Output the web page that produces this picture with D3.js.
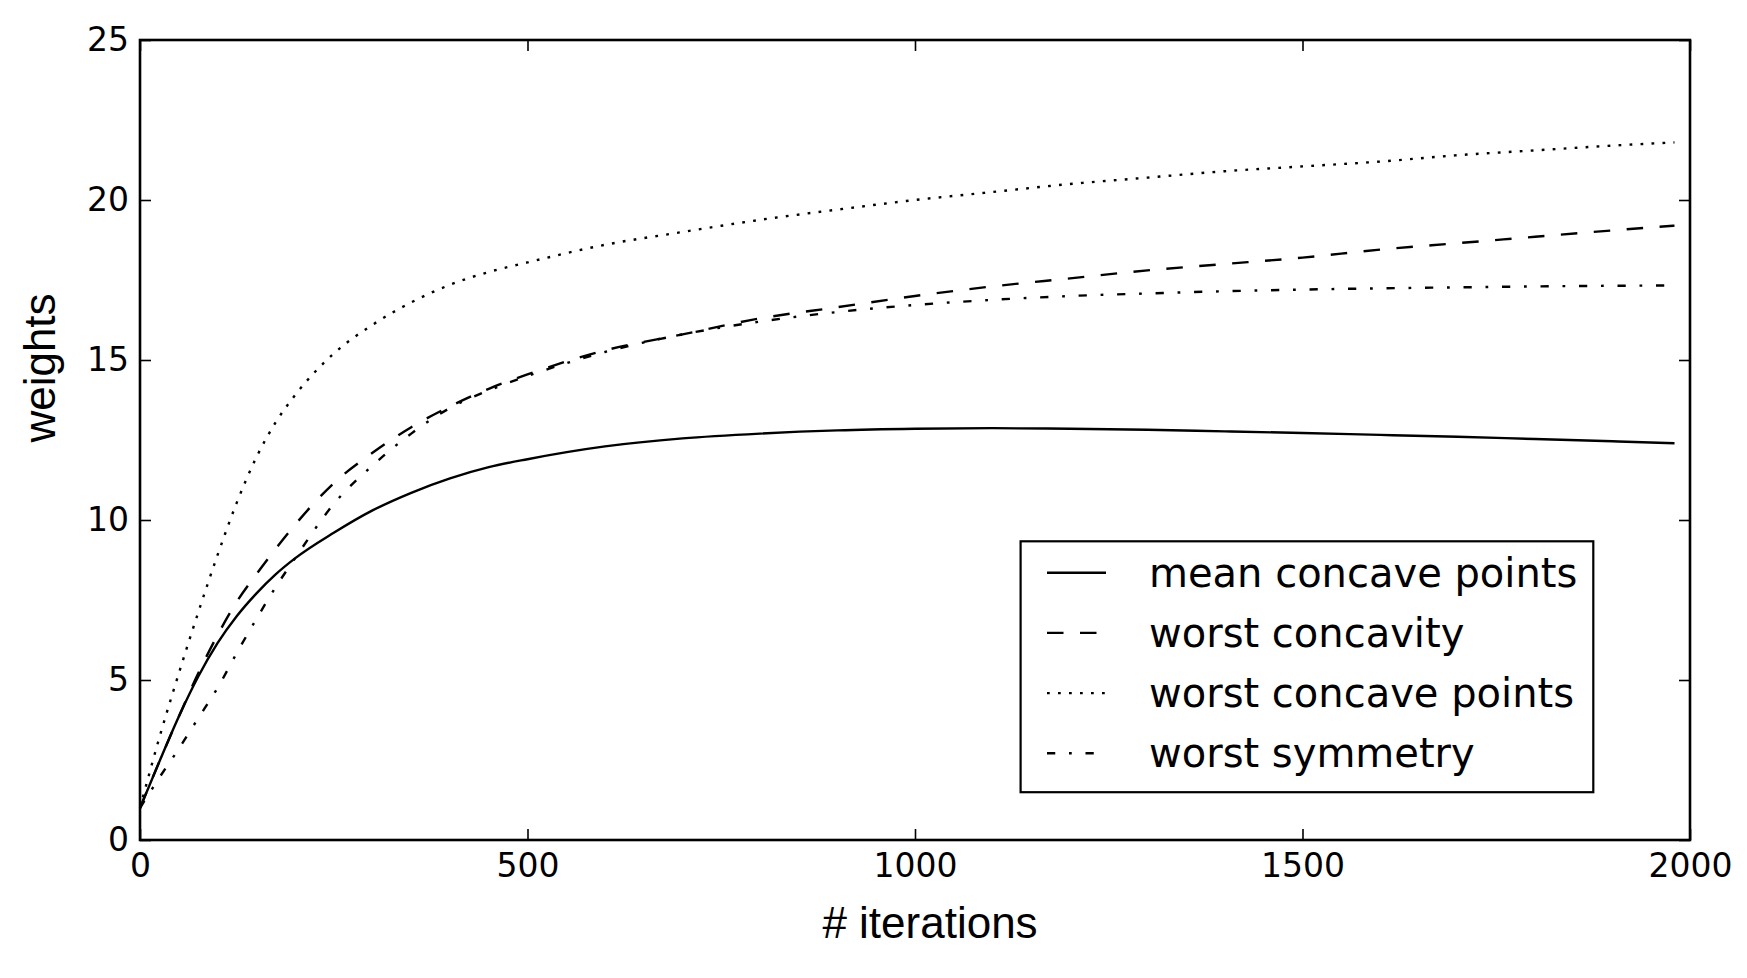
<!DOCTYPE html>
<html>
<head>
<meta charset="utf-8">
<script src="https://cdn.jsdelivr.net/npm/d3@7"></script>
<style>
  html, body { margin: 0; padding: 0; background: #fff; }
  svg { display: block; }
</style>
</head>
<body>
<svg id="chart" width="1747" height="978"></svg>
<script>
const iterations = [0,25,50,75,100,125,150,175,200,250,300,350,400,450,500,600,700,800,900,1000,1100,1200,1300,1400,1500,1600,1700,1800,1900,1980];
const meanConcavePoints = [1.0,2.45,3.85,5.1,6.15,7.0,7.7,8.3,8.8,9.6,10.3,10.85,11.3,11.65,11.9,12.3,12.55,12.7,12.8,12.85,12.87,12.85,12.82,12.77,12.72,12.66,12.6,12.53,12.46,12.4];
const worstConcavity = [1.0,2.45,3.85,5.2,6.4,7.45,8.3,9.1,9.85,11.15,12.1,12.9,13.55,14.1,14.55,15.3,15.8,16.3,16.65,17.0,17.3,17.55,17.8,18.0,18.2,18.45,18.65,18.85,19.05,19.2];
const worstConcavePoints = [1.0,3.2,5.2,7.1,8.9,10.55,11.95,13.05,13.9,15.2,16.1,16.8,17.35,17.75,18.05,18.6,19.0,19.38,19.7,20.0,20.25,20.5,20.7,20.9,21.05,21.2,21.4,21.55,21.7,21.8];
const worstSymmetry = [1.0,1.95,2.85,3.8,4.75,5.85,6.9,7.9,8.8,10.5,11.7,12.7,13.5,14.05,14.5,15.25,15.8,16.2,16.5,16.72,16.88,17.0,17.08,17.15,17.2,17.24,17.27,17.3,17.32,17.33];
const seriesNames = ["mean concave points","worst concavity","worst concave points","worst symmetry"];
const xTicks = [0,500,1000,1500,2000];
const yTicks = [0,5,10,15,20,25];
const xLabel = "# iterations";
const yLabel = "weights";

const seriesValues = [meanConcavePoints, worstConcavity, worstConcavePoints, worstSymmetry];
const dashes = [null, "16.5,16.5", "2.75,8.25", "8.25,13.75,2.75,13.75"];

const L = 140, R = 1690, T = 40, B = 840;
const svg = d3.select("#chart");
const x = d3.scaleLinear().domain([0, 2000]).range([L, R]);
const y = d3.scaleLinear().domain([0, 25]).range([B, T]);

const tickFont = "'DejaVu Sans', sans-serif";
const labelFont = "'Liberation Sans', Arial, sans-serif";

// axes
const gx = svg.append("g").attr("transform", `translate(0,${B})`)
  .call(d3.axisBottom(x).tickValues(xTicks).tickFormat(d3.format("d")).tickSizeInner(-11).tickSizeOuter(0).tickPadding(0));
gx.select(".domain").remove();
gx.selectAll(".tick line").attr("stroke", "#000").attr("stroke-width", 1.6);
gx.selectAll(".tick text").attr("y", 37).attr("dy", null)
  .style("font-family", tickFont).style("font-size", "33px").attr("fill", "#000");

const gxt = svg.append("g").attr("transform", `translate(0,${T})`)
  .call(d3.axisTop(x).tickValues(xTicks).tickFormat("").tickSizeInner(-11).tickSizeOuter(0));
gxt.select(".domain").remove();
gxt.selectAll(".tick line").attr("stroke", "#000").attr("stroke-width", 1.6);

const gy = svg.append("g").attr("transform", `translate(${L},0)`)
  .call(d3.axisLeft(y).tickValues(yTicks).tickFormat(d3.format("d")).tickSizeInner(-11).tickSizeOuter(0).tickPadding(11));
gy.select(".domain").remove();
gy.selectAll(".tick line").attr("stroke", "#000").attr("stroke-width", 1.6);
gy.selectAll(".tick text").attr("x", -11).attr("dy", "10px")
  .style("font-family", tickFont).style("font-size", "33px").attr("fill", "#000");

const gyr = svg.append("g").attr("transform", `translate(${R},0)`)
  .call(d3.axisRight(y).tickValues(yTicks).tickFormat("").tickSizeInner(-11).tickSizeOuter(0));
gyr.select(".domain").remove();
gyr.selectAll(".tick line").attr("stroke", "#000").attr("stroke-width", 1.6);

// lines
const line = d3.line().x(d => x(d[0])).y(d => y(d[1])).curve(d3.curveMonotoneX);
seriesValues.forEach((vals, i) => {
  const pts = iterations.map((it, k) => [it, vals[k]]);
  const p = svg.append("path").datum(pts).attr("d", line)
    .attr("fill", "none").attr("stroke", "#000").attr("stroke-width", 2.4)
    .attr("stroke-linecap", "butt").attr("stroke-linejoin", "round");
  if (dashes[i]) p.attr("stroke-dasharray", dashes[i]);
});

// frame
svg.append("rect").attr("x", L).attr("y", T).attr("width", R - L).attr("height", B - T)
  .attr("fill", "none").attr("stroke", "#000").attr("stroke-width", 2.6);

// axis labels
svg.append("text").attr("x", 930).attr("y", 938).attr("text-anchor", "middle")
  .style("font-family", labelFont).style("font-size", "44px").attr("fill", "#000").text(xLabel);
svg.append("text").attr("transform", "translate(55,368) rotate(-90)").attr("text-anchor", "middle")
  .style("font-family", labelFont).style("font-size", "44px").attr("fill", "#000").text(yLabel);

// legend
const lg = svg.append("g");
lg.append("rect").attr("x", 1020.6).attr("y", 541.3).attr("width", 572.7).attr("height", 250.9)
  .attr("fill", "#fff").attr("stroke", "#000").attr("stroke-width", 2.2);
seriesNames.forEach((name, i) => {
  const cy = 572.7 + i * 60.2;
  const ln = lg.append("line").attr("x1", 1047).attr("x2", 1106).attr("y1", cy).attr("y2", cy)
    .attr("stroke", "#000").attr("stroke-width", 2.4).attr("stroke-linecap", "butt");
  if (dashes[i]) ln.attr("stroke-dasharray", dashes[i]);
  lg.append("text").attr("x", 1149).attr("y", cy + 14)
    .style("font-family", tickFont).style("font-size", "40px").attr("fill", "#000").text(name);
});
</script>
</body>
</html>
